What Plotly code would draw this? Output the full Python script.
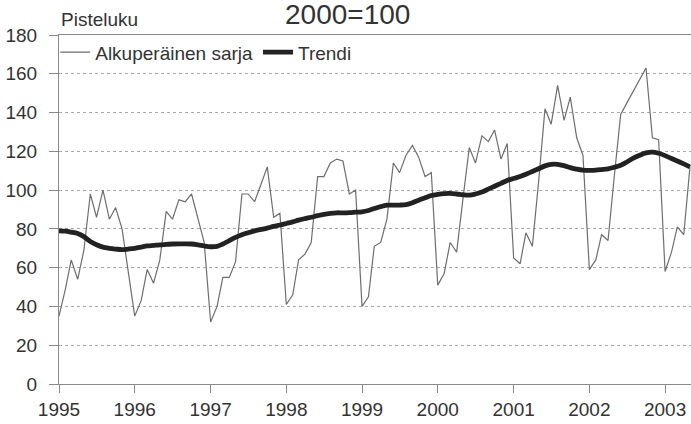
import plotly.graph_objects as go
import pandas as pd

# monthly index values, Jan 1995 - May 2003
alkuperainen = [
    35, 49, 64, 54, 69, 98, 86, 100, 85, 91, 80, 57,        # 1995
    35, 43, 59, 52, 64, 89, 85, 95, 94, 98, 85, 73,         # 1996
    32, 40, 55, 55, 63, 98, 98, 94, 103, 112, 86, 88,       # 1997
    41, 46, 64, 67, 73, 107, 107, 114, 116, 115, 98, 100,   # 1998
    40, 45, 71, 73, 85, 114, 109, 118, 123, 117, 107, 109,  # 1999
    51, 57, 73, 68, 95, 122, 114, 128, 125, 131, 116, 124,  # 2000
    65, 62, 78, 71, 104, 142, 134, 154, 136, 148, 127, 118, # 2001
    59, 64, 77, 74, 107, 139, 145, 151, 157, 163, 127, 126, # 2002
    58, 68, 81, 77, 112,                                    # 2003
]
trendi = [
    79, 78.8, 78.3, 77.6, 76, 73.5, 71.8, 70.6, 70, 69.6, 69.3, 69.6,
    70, 70.6, 71.2, 71.5, 71.8, 72, 72.2, 72.3, 72.3, 72.2, 71.8, 71.2,
    70.8, 71, 72.2, 74, 75.6, 77, 78, 79, 79.7, 80.4, 81.3, 82,
    82.8, 83.6, 84.5, 85.3, 86, 86.8, 87.5, 88, 88.3, 88.3, 88.4, 88.6,
    88.8, 89.5, 90.5, 91.5, 92.2, 92.3, 92.3, 92.5, 93.5, 94.8, 96, 97.2,
    97.8, 98.2, 98.3, 98, 97.6, 97.4, 98, 99, 100.5, 102, 103.5, 105,
    106, 107, 108.2, 109.6, 111, 112.5, 113.3, 113.3, 112.6, 111.6, 110.8, 110.3,
    110.2, 110.3, 110.6, 111, 111.8, 112.8, 114.5, 116.5, 118, 119.2, 119.6, 119,
    117.8, 116.3, 115, 113.5, 112,
]
kuukaudet = pd.date_range('1995-01-01', periods=len(alkuperainen), freq='MS')

font = 'Liberation Sans, Arial, Helvetica, sans-serif'
txt = '#333333'
axcol = '#8a8a8a'

fig = go.Figure()
fig.add_trace(go.Scatter(x=kuukaudet, y=alkuperainen, mode='lines',
                         name='Alkuperäinen sarja',
                         line=dict(color='#6e6e6e', width=1.2)))
fig.add_trace(go.Scatter(x=kuukaudet, y=trendi, mode='lines', name='Trendi',
                         line=dict(color='#222222', width=4.8, shape='spline')))

fig.update_layout(
    width=691, height=424,
    margin=dict(l=59, r=0, t=35, b=40),
    paper_bgcolor='white', plot_bgcolor='white',
    font=dict(family=font, size=19, color=txt),
    showlegend=True,
    legend=dict(orientation='h', x=-0.006, xanchor='left', y=1.005, yanchor='top',
                bgcolor='rgba(0,0,0,0)', itemwidth=30,
                font=dict(family=font, size=19, color=txt)),
    annotations=[
        dict(text='Pisteluku', xref='paper', yref='paper', x=0, y=1,
             xanchor='left', yanchor='bottom', xshift=0, yshift=3,
             showarrow=False, font=dict(family=font, size=19, color=txt)),
        # title sits right at the top edge, as in the original
        dict(text='2000=100', xref='paper', yref='paper', x=0.456, y=1,
             xanchor='center', yanchor='bottom', yshift=3,
             showarrow=False, font=dict(family=font, size=28, color=txt)),
    ],
)

fig.update_xaxes(
    type='date', range=['1995-01-01', '2003-05-06'],
    dtick='M12', tick0='1995-01-01', tickformat='%Y',
    showgrid=False, showline=True, linecolor=axcol, linewidth=1, mirror=True,
    ticks='outside', ticklen=8, tickcolor=axcol, zeroline=False,
    tickfont=dict(family=font, size=19, color=txt), automargin=False,
)
fig.update_yaxes(
    range=[0, 180], dtick=20, tick0=0,
    showgrid=True, gridcolor='#a8a8a8', griddash='dot', gridwidth=1,
    showline=True, linecolor=axcol, linewidth=1,
    ticks='outside', ticklen=9, tickcolor=axcol, zeroline=False,
    ticklabelstandoff=8,
    tickfont=dict(family=font, size=19, color=txt), automargin=False,
)

# drop the default body margin so the figure fills the window exactly
fig.write_html('out.html', config={'displayModeBar': False},
               post_script="document.body.style.margin='0';")
